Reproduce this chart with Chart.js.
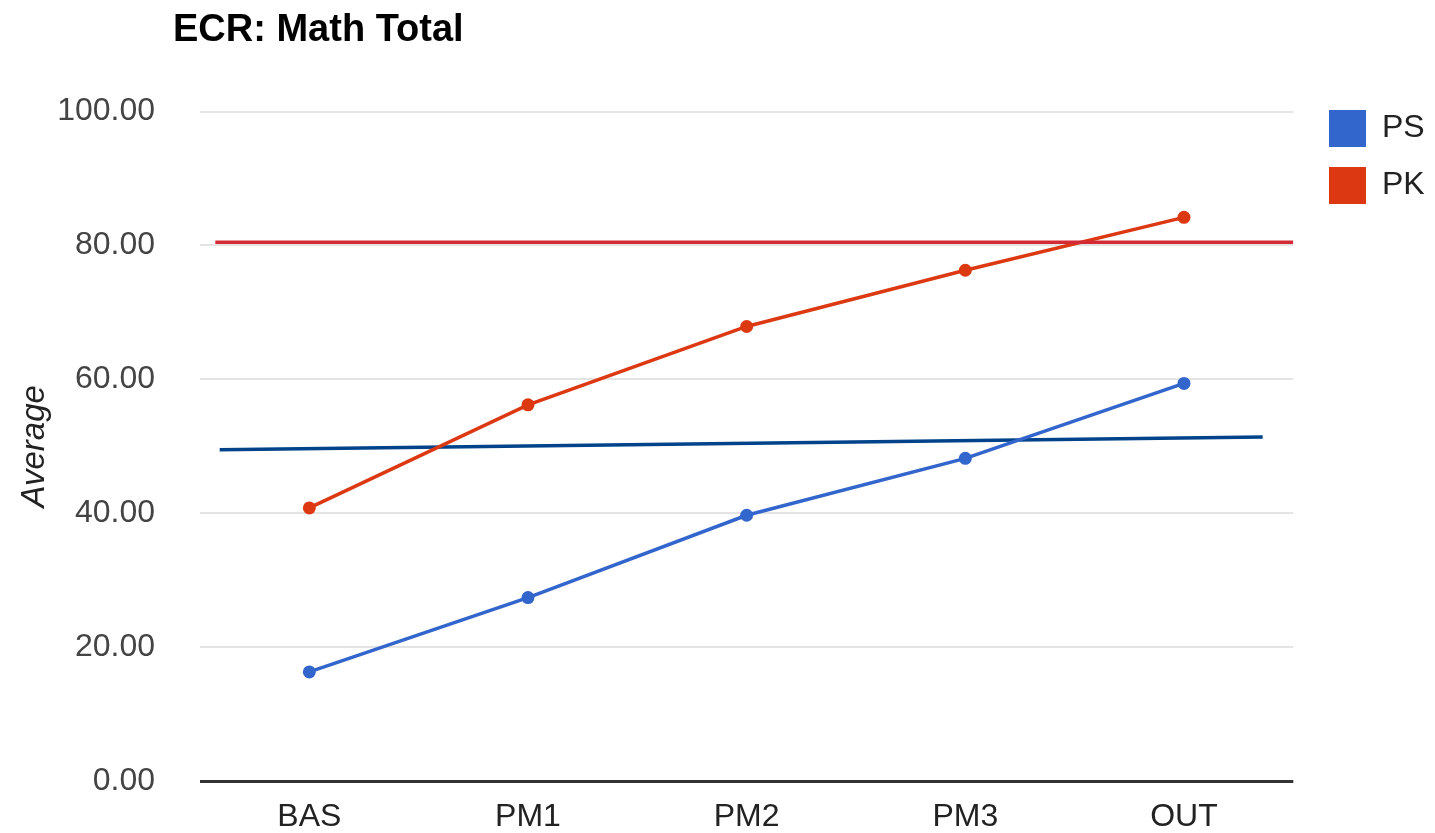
<!DOCTYPE html>
<html>
<head>
<meta charset="utf-8">
<script src="https://cdn.jsdelivr.net/npm/chart.js@4/dist/chart.umd.min.js"></script>
<style>
  html, body { margin: 0; padding: 0; background: #fff; }
  #wrap { width: 1435px; height: 833px; position: relative; }
</style>
</head>
<body>
<div id="wrap"><canvas id="c"></canvas></div>
<script>
// ---- data ----
const categories = ['BAS', 'PM1', 'PM2', 'PM3', 'OUT'];
const psValues = [16.3, 27.4, 39.7, 48.2, 59.4];
const pkValues = [40.8, 56.2, 67.9, 76.3, 84.2];
// reference lines (x in category-index units, y in values)
const pkLineX = [-0.43, 4.5];
const pkLineY = [80.5, 80.5];
const psLineX = [-0.41, 4.36];
const psLineY = [49.5, 51.4];
const yMin = 0, yMax = 100, yStep = 20;
const chartTitle = 'ECR: Math Total';
const yAxisTitle = 'Average';
const seriesNames = ['PS', 'PK'];

const FONT = "'Liberation Sans', Arial, sans-serif";

const toPts = (xs, ys) => xs.map((x, i) => ({ x: x, y: ys[i] }));

const placePlugin = {
  id: 'placeBoxes',
  afterLayout(chart) {
    const t = chart.titleBlock;
    if (t) { const w = t.right - t.left; t.left = 173; t.right = 173 + w; }
    const lg = chart.legend;
    if (lg) {
      const dx = 1309 - lg.left, dy = 90 - lg.top;
      lg.left += dx; lg.right += dx; lg.top += dy; lg.bottom += dy;
    }
  }
};

new Chart(document.getElementById('c'), {
  type: 'line',
  data: {
    labels: categories,
    datasets: [
      {
        label: seriesNames[0], data: psValues, xAxisID: 'x',
        borderColor: '#3366cc', backgroundColor: '#3366cc',
        borderWidth: 3.5, pointRadius: 6.5, pointBorderWidth: 0, pointHoverRadius: 6.5,
        tension: 0, order: 2
      },
      {
        label: seriesNames[1], data: pkValues, xAxisID: 'x',
        borderColor: '#dc3912', backgroundColor: '#dc3912',
        borderWidth: 3.5, pointRadius: 6.5, pointBorderWidth: 0, pointHoverRadius: 6.5,
        tension: 0, order: 2
      },
      {
        label: 'pkRef', data: toPts(pkLineX, pkLineY), xAxisID: 'x2',
        borderColor: '#d42a35', backgroundColor: '#d42a35',
        borderWidth: 3.5, pointRadius: 0, tension: 0, order: 1
      },
      {
        label: 'psRef', data: toPts(psLineX, psLineY), xAxisID: 'x2',
        borderColor: '#00438a', backgroundColor: '#00438a',
        borderWidth: 3.5, pointRadius: 0, tension: 0, order: 3
      }
    ]
  },
  options: {
    responsive: true,
    maintainAspectRatio: false,
    animation: false,
    layout: { padding: { left: 0, right: 16, top: 0, bottom: 0 } },
    plugins: {
      title: {
        display: true, text: chartTitle, align: 'start', color: '#000',
        font: { family: FONT, size: 38, weight: 'bold' },
        padding: { top: 8, bottom: 58 }
      },
      legend: {
        display: true, position: 'right', align: 'start',
        labels: {
          boxWidth: 37, boxHeight: 37, padding: 20, color: '#222',
          font: { family: FONT, size: 32 },
          generateLabels: (chart) =>
            Chart.defaults.plugins.legend.labels.generateLabels(chart)
              .filter((it) => it.datasetIndex < 2)
              .map((it) => Object.assign(it, { lineWidth: 0 }))
        }
      },
      tooltip: { enabled: false }
    },
    scales: {
      x: {
        type: 'category', offset: true,
        grid: { display: false, drawTicks: false },
        border: { display: false },
        ticks: { color: '#222', font: { family: FONT, size: 32 }, padding: 17, maxRotation: 0 },
        afterFit(s) { s.height = 52; }
      },
      x2: {
        type: 'linear', display: false, min: -0.5, max: 4.5
      },
      y: {
        min: yMin, max: yMax,
        ticks: {
          stepSize: yStep, color: '#444', padding: 5,
          font: { family: FONT, size: 32 },
          callback: (v) => Number(v).toFixed(2)
        },
        grid: {
          drawTicks: true, tickLength: 40, tickColor: 'rgba(0,0,0,0)',
          color: (ctx) => (ctx.tick && ctx.tick.value === 0) ? '#333333' : '#e4e4e4',
          lineWidth: (ctx) => (ctx.tick && ctx.tick.value === 0) ? 3 : 2
        },
        border: { display: false },
        title: {
          display: true, text: yAxisTitle, color: '#222',
          font: { family: FONT, size: 33, style: 'italic' },
          padding: { top: 15, bottom: 0 }
        },
        afterFit(s) { s.width = 200; }
      }
    }
  },
  plugins: [placePlugin]
});
</script>
</body>
</html>
